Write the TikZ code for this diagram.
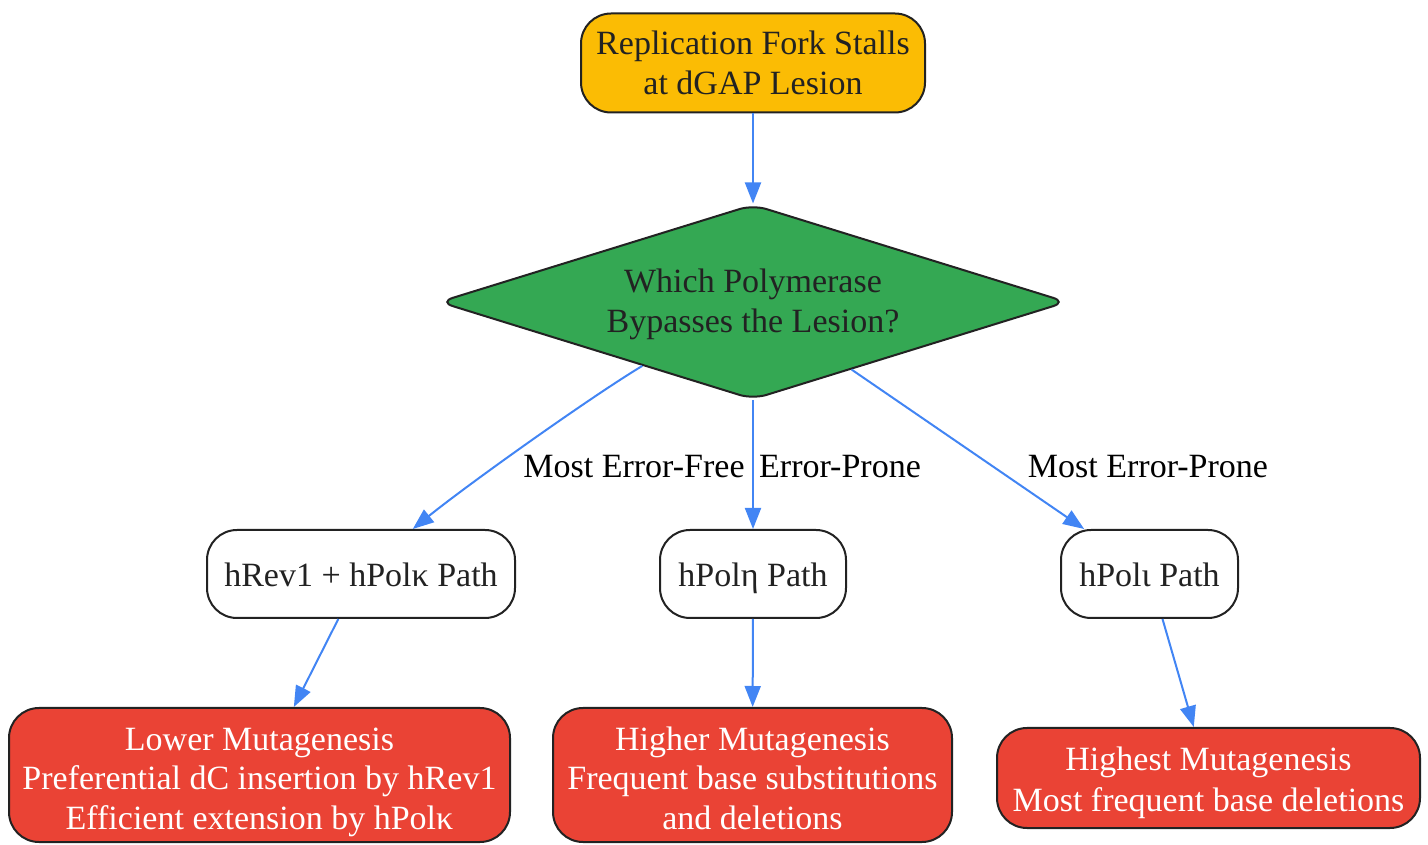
\documentclass[tikz,border=0pt]{standalone}
\usepackage{fontspec}
\setmainfont{Liberation Serif}
\usetikzlibrary{shapes.geometric,arrows.meta}
\definecolor{cyellow}{HTML}{FBBC04}
\definecolor{cgreen}{HTML}{34A853}
\definecolor{cred}{HTML}{EA4335}
\definecolor{cblue}{HTML}{4285F4}
\definecolor{cdark}{HTML}{222222}
% first-line strut of height #1, last-line strut of depth 9pt
\newcommand{\fst}[1]{\rule{0pt}{#1pt}}
\newcommand{\lst}{\rule[-9pt]{0pt}{0pt}}
\tikzset{
  box/.style={draw=cdark, line width=2pt, rounded corners=30pt, align=center, inner sep=0pt,
    font=\fontsize{34}{40}\selectfont, text=cdark},
  yellowbox/.style={box, fill=cyellow},
  whitebox/.style={box, fill=white},
  redbox/.style={box, fill=cred, text=white},
  decision/.style={diamond, draw=cdark, line width=2pt, fill=cgreen, rounded corners=14pt,
    aspect=3.23, inner sep=0pt, align=center, font=\fontsize{34}{40}\selectfont, text=cdark},
  edge/.style={draw=cblue, line width=2pt, -{Triangle[length=21pt,width=16pt]}},
  lbl/.style={font=\fontsize{34}{40}\selectfont, text=black, inner sep=0pt}
}
\begin{document}
\begin{tikzpicture}[x=1pt,y=1pt]
\useasboundingbox (0,0) rectangle (1428,844);
\node[yellowbox, minimum width=344pt, minimum height=99pt] (top) at (753,781)
  {\fst{33}Replication Fork Stalls\\at dGAP Lesion\lst};
\node[decision, minimum width=628pt, minimum height=195pt] (d) at (753,542)
  {\fst{31}Which Polymerase\\Bypasses the Lesion?\lst};
\node[whitebox, minimum width=308pt, minimum height=88pt] (h1) at (361,270) {\fst{34.4}hRev1 + hPolκ Path\lst};
\node[whitebox, minimum width=186pt, minimum height=88pt] (h2) at (753,270) {\fst{34.4}hPolη Path\lst};
\node[whitebox, minimum width=177pt, minimum height=88pt] (h3) at (1149.5,270) {\fst{34.4}hPolι Path\lst};
\node[redbox, minimum width=501pt, minimum height=134pt] (r1) at (259.5,69)
  {\fst{39}Lower Mutagenesis\\Preferential dC insertion by hRev1\\Efficient extension by hPolκ\lst};
\node[redbox, minimum width=399pt, minimum height=134pt] (r2) at (752.5,69)
  {\fst{39}Higher Mutagenesis\\Frequent base substitutions\\and deletions\lst};
\node[redbox, minimum width=423pt, minimum height=100pt] (r3) at (1208.5,66)
  {\fst{35}Highest Mutagenesis\\Most frequent base deletions\lst};
\node[lbl] (l1) at (634,377) {Most Error-Free};
\node[lbl] (l2) at (840,377) {Error-Prone};
\node[lbl] (l3) at (1148,377) {Most Error-Prone};
\draw[edge] (top) -- (d);
\draw[edge] (d.210) .. controls +(-50,-30) and +(57,46) .. (h1.41);
\draw[edge] (d) -- (h2);
\draw[edge] (d) -- (h3);
\draw[edge] (h1) -- (r1);
\draw[edge] (h2) -- (r2);
\draw[edge] (h3) -- (r3);
\end{tikzpicture}
\end{document}
